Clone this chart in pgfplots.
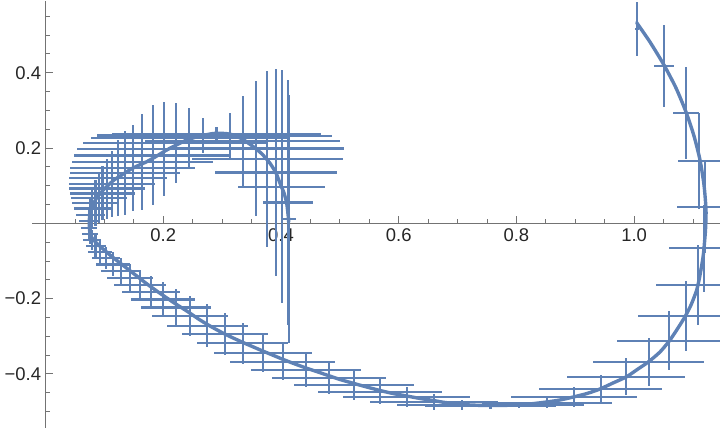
\documentclass[border=0pt]{standalone}
\usepackage{pgfplots}
\usepackage{pgfplotstable}
\pgfplotsset{compat=1.18}
\usepackage{fontspec}
\setmainfont{Liberation Sans}
\definecolor{mmablue}{rgb}{0.368417,0.506779,0.709798}

\pgfplotstableread{
x y dx dy
1.0044 0.5161 0.0034 0.0730
1.0513 0.4186 0.0170 0.1089
1.0882 0.2938 0.0226 0.1222
1.1103 0.1655 0.0357 0.1275
1.1205 0.0441 0.0481 0.1222
1.1193 -0.0664 0.0595 0.1153
1.1081 -0.1639 0.0709 0.1054
1.0877 -0.2454 0.0816 0.0930
1.0598 -0.3118 0.0884 0.0784
1.0248 -0.3676 0.0948 0.0637
0.9862 -0.4074 0.1003 0.0491
0.9433 -0.4393 0.1045 0.0372
0.8984 -0.4606 0.1071 0.0266
0.8515 -0.4765 0.1105 0.0146
0.8049 -0.4826 0.1105 0.0080
0.7560 -0.4853 0.1105 0.0080
0.7070 -0.4826 0.1094 0.0133
0.6600 -0.4738 0.1088 0.0212
0.6136 -0.4606 0.1077 0.0266
0.5682 -0.4473 0.1048 0.0332
0.5240 -0.4295 0.1020 0.0390
0.4811 -0.4101 0.0972 0.0433
0.4425 -0.3896 0.0935 0.0452
0.4029 -0.3676 0.0889 0.0478
0.3689 -0.3437 0.0833 0.0523
0.3349 -0.3187 0.0775 0.0544
0.3048 -0.2948 0.0726 0.0558
0.2748 -0.2720 0.0686 0.0576
0.2454 -0.2462 0.0646 0.0531
0.2216 -0.2236 0.0595 0.0491
0.1995 -0.2024 0.0544 0.0452
0.1791 -0.1825 0.0493 0.0425
0.1604 -0.1639 0.0442 0.0398
0.1434 -0.1453 0.0391 0.0372
0.1281 -0.1267 0.0340 0.0345
0.1145 -0.1094 0.0289 0.0319
0.1026 -0.0922 0.0238 0.0305
0.0929 -0.0762 0.0204 0.0292
0.0848 -0.0603 0.0170 0.0279
0.0788 -0.0444 0.0153 0.0266
0.0754 -0.0284 0.0136 0.0266
0.0743 -0.0125 0.0136 0.0292
0.0746 0.0061 0.0170 0.0372
0.0763 0.0220 0.0246 0.0452
0.0794 0.0393 0.0319 0.0531
0.0848 0.0539 0.0399 0.0611
0.0907 0.0672 0.0481 0.0664
0.0967 0.0792 0.0552 0.0717
0.1043 0.0924 0.0641 0.0797
0.1128 0.1044 0.0726 0.0876
0.1235 0.1203 0.0829 0.1009
0.1349 0.1336 0.0935 0.1116
0.1485 0.1469 0.1062 0.1142
0.1643 0.1628 0.1200 0.1275
0.1820 0.1801 0.1337 0.1328
0.2007 0.1973 0.1473 0.1248
0.2211 0.2133 0.1575 0.1062
0.2437 0.2266 0.1665 0.0797
0.2675 0.2332 0.1801 0.0452
0.2904 0.2359 0.1784 0.0212
0.3133 0.2319 0.1728 0.0611
0.3349 0.2186 0.1653 0.1195
0.3575 0.1987 0.1495 0.1793
0.3767 0.1708 0.1281 0.2332
0.3915 0.1349 0.1042 0.2762
0.4012 0.0972 0.0736 0.3100
0.4114 0.0552 0.0425 0.3254
0.4141 0.0114 0.0114 0.3293
}\points

\pgfplotstableread{
x y
1.0044 0.5328
1.0270 0.4815
1.0508 0.4204
1.0712 0.3594
1.0882 0.2956
1.1018 0.2319
1.1120 0.1681
1.1188 0.1017
1.1222 0.0353
1.1213 -0.0178
1.1176 -0.0842
1.1120 -0.1373
1.1064 -0.1772
1.0967 -0.2170
1.0865 -0.2481
1.0746 -0.2781
1.0610 -0.3100
1.0440 -0.3418
1.0241 -0.3684
1.0066 -0.3870
0.9874 -0.4074
0.9641 -0.4242
0.9421 -0.4401
0.9200 -0.4521
0.8967 -0.4614
0.8741 -0.4693
0.8515 -0.4746
0.8231 -0.4799
0.8005 -0.4826
0.7721 -0.4839
0.7466 -0.4839
0.7212 -0.4826
0.7042 -0.4799
0.6787 -0.4760
0.6588 -0.4707
0.6362 -0.4653
0.6136 -0.4587
0.5903 -0.4521
0.5682 -0.4441
0.5456 -0.4348
0.5240 -0.4255
0.5003 -0.4149
0.4777 -0.4029
0.4578 -0.3923
0.4425 -0.3843
0.4238 -0.3737
0.4039 -0.3618
0.3813 -0.3471
0.3689 -0.3392
0.3473 -0.3246
0.3354 -0.3166
0.3133 -0.3007
0.2963 -0.2874
0.2794 -0.2728
0.2624 -0.2568
0.2398 -0.2329
0.2199 -0.2130
0.1944 -0.1859
0.1723 -0.1612
0.1490 -0.1328
0.1264 -0.1054
0.1094 -0.0842
0.0958 -0.0656
0.0868 -0.0531
0.0788 -0.0390
0.0754 -0.0266
0.0743 -0.0098
0.0743 0.0088
0.0754 0.0247
0.0780 0.0380
0.0811 0.0513
0.0856 0.0645
0.0907 0.0752
0.0980 0.0884
0.1060 0.1004
0.1162 0.1150
0.1320 0.1309
0.1485 0.1469
0.1718 0.1636
0.1876 0.1774
0.2058 0.1947
0.2255 0.2106
0.2398 0.2212
0.2590 0.2305
0.2850 0.2385
0.3048 0.2385
0.3189 0.2345
0.3354 0.2226
0.3529 0.2035
0.3677 0.1841
0.3813 0.1594
0.3915 0.1336
0.3983 0.1062
0.4051 0.0805
0.4097 0.0531
0.4124 0.0175
0.4131 0.0035
}\curve

\begin{document}
\begin{tikzpicture}
\begin{axis}[
  scale only axis,
  width=688bp, height=426.8bp,
  xmin=-0.02311, xmax=1.14597,
  ymin=-0.5437, ymax=0.5900,
  axis lines=middle,
  axis line style={-, draw=black!55, line width=0.8bp},
  xtick={0.2,0.4,0.6,0.8,1.0},
  xticklabels={0.2,0.4,0.6,0.8,1.0},
  ytick={-0.4,-0.2,0.2,0.4},
  yticklabels={−0.4,−0.2,0.2,0.4},
  minor xtick={0.05,0.1,0.15,0.25,0.3,0.35,0.45,0.5,0.55,0.65,0.7,0.75,0.85,0.9,0.95,1.05,1.1},
  minor ytick={-0.5,-0.45,-0.35,-0.3,-0.25,-0.15,-0.1,-0.05,0.05,0.1,0.15,0.25,0.3,0.35,0.45,0.5,0.55},
  tick align=inside,
  major tick length=7bp,
  minor tick length=4bp,
  tick style={draw=black!55, line width=0.8bp},
  ticklabel style={font=\fontsize{18.5}{20}\selectfont, text=black!85},
  xticklabel style={yshift=-2bp},
  yticklabel style={xshift=-1bp},
  clip=true,
]
\coordinate (O) at (axis cs:0,0);
\addplot[draw=none, mark=none,
  error bars/.cd, x dir=both, x explicit, y dir=both, y explicit,
  error mark=none,
  error bar style={draw=mmablue, line width=2.1bp}]
  table[x=x, y=y, x error=dx, y error=dy] {\points};
\addplot[mmablue, line width=3.4bp, smooth, tension=0.4, mark=none, line cap=round] table[x=x, y=y] {\curve};
\end{axis}
\pgfresetboundingbox
\path[use as bounding box] ([shift={(-45.6bp,-204.7bp)}]O) rectangle ([shift={(674.4bp,223.3bp)}]O);
\end{tikzpicture}
\end{document}
